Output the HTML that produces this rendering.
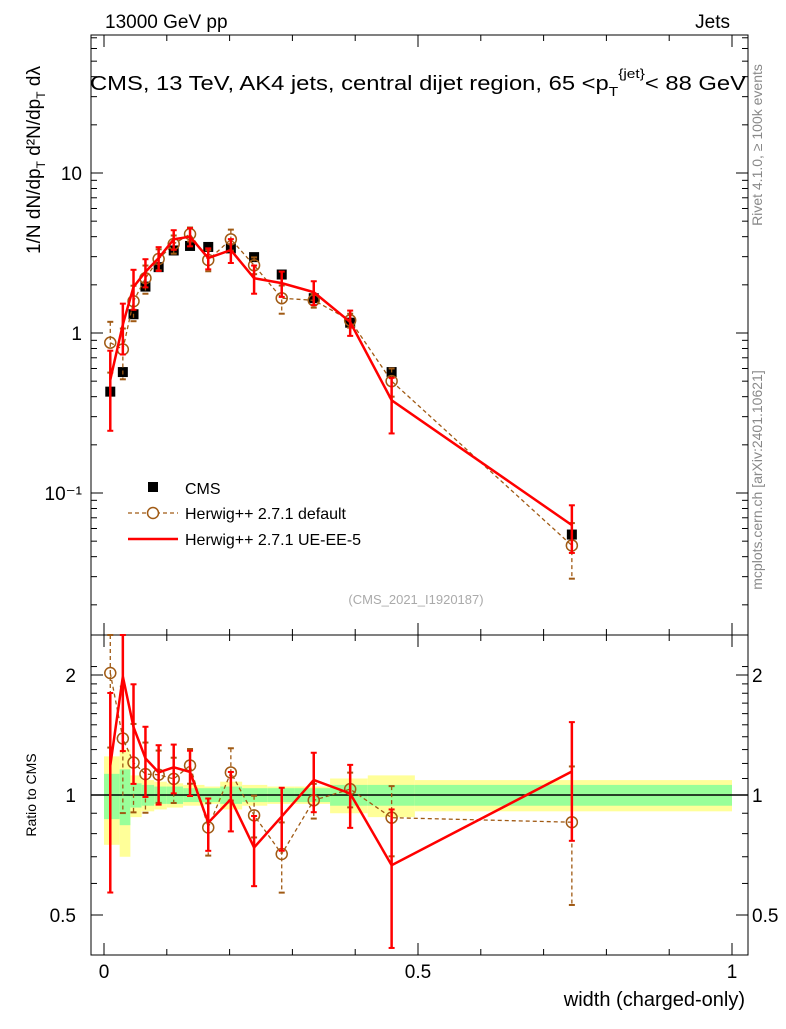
<!DOCTYPE html>
<html><head><meta charset="utf-8"><style>
body{margin:0;background:#fff}
svg{font-family:"Liberation Sans",sans-serif}
</style></head><body>
<svg id="c" width="786" height="1024" xmlns="http://www.w3.org/2000/svg">
<text x="105" y="28" font-size="19">13000 GeV pp</text>
<text x="730" y="28" font-size="19" text-anchor="end">Jets</text>
<text x="90" y="90" font-size="20" textLength="656" lengthAdjust="spacingAndGlyphs">CMS, 13 TeV, AK4 jets, central dijet region, 65 &lt;p<tspan font-size="13" dy="6">T</tspan><tspan font-size="13" dy="-18">{jet}</tspan><tspan dy="12">&lt; 88 GeV</tspan></text>
<text transform="translate(40,160) rotate(-90)" font-size="19" text-anchor="middle">1/N dN/dp<tspan font-size="12" dy="5">T</tspan><tspan dy="-5"> d²N/dp</tspan><tspan font-size="12" dy="5">T</tspan><tspan dy="-5"> dλ</tspan></text>
<text transform="translate(762,145) rotate(-90)" font-size="14" fill="#888" text-anchor="middle">Rivet 4.1.0, ≥ 100k events</text>
<text transform="translate(762,480) rotate(-90)" font-size="14" fill="#888" text-anchor="middle">mcplots.cern.ch [arXiv:2401.10621]</text>
<text x="416" y="604" font-size="13" fill="#aaa" text-anchor="middle">(CMS_2021_I1920187)</text>
<text transform="translate(36,795) rotate(-90)" font-size="14" text-anchor="middle">Ratio to CMS</text>
<text x="745" y="1006" font-size="20" text-anchor="end">width (charged-only)</text>
<g id="g"></g>
</svg>
<script>
const xs=[0.01,0.03,0.047,0.066,0.087,0.111,0.137,0.166,0.202,0.239,0.283,0.334,0.392,0.458,0.745];
const cms=[0.43,0.57,1.31,1.95,2.58,3.28,3.5,3.45,3.38,2.98,2.32,1.65,1.16,0.57,0.055];
const cmsErr=[0.08,0.06,0.05,0.04,0.04,0.04,0.04,0.04,0.04,0.04,0.04,0.04,0.05,0.06,0.06];
const hwDef=[0.87,0.79,1.58,2.2,2.9,3.6,4.15,2.86,3.85,2.65,1.65,1.6,1.2,0.5,0.047];
const hwDefErr=[0.35,0.35,0.25,0.2,0.15,0.13,0.1,0.15,0.15,0.12,0.2,0.1,0.1,0.2,0.38];
const hwUE=[0.51,1.13,1.94,2.41,2.94,3.85,4.0,2.94,3.3,2.2,2.05,1.8,1.17,0.38,0.063];
const hwUEErr=[0.52,0.35,0.28,0.2,0.17,0.14,0.13,0.15,0.17,0.2,0.18,0.17,0.18,0.38,0.33];
const bandEdges=[0,0.025,0.042,0.06,0.08,0.1,0.126,0.16,0.185,0.22,0.26,0.304,0.36,0.42,0.495,1.0];
const bandYellow=[0.25,0.3,0.12,0.09,0.08,0.07,0.06,0.05,0.08,0.06,0.05,0.05,0.1,0.12,0.09];
const bandGreen=[0.13,0.16,0.07,0.06,0.05,0.05,0.04,0.04,0.05,0.04,0.04,0.04,0.06,0.06,0.06];
const xTicks=[0,0.5,1];
const mainTicks=[[10,'10'],[1,'1'],[0.1,'10⁻¹']];
const ratioTicks=[[2,'2'],[1,'1'],[0.5,'0.5']];

const X=v=>104+v*628;
const Y=v=>333-Math.log10(v)*160;
const R=v=>795-Math.log2(v)*120;
const g=document.getElementById('g');
const NS='http://www.w3.org/2000/svg';
function mk(t,a,name,txt){const e=document.createElementNS(NS,t);for(const k in a)e.setAttribute(k,a[k]);


if(txt!==undefined)e.textContent=txt;g.appendChild(e);return e;}
for(let i=0;i<bandYellow.length;i++){
 const x0=X(bandEdges[i]),x1=X(bandEdges[i+1]);
 mk('rect',{x:x0,y:R(1+bandYellow[i]),width:x1-x0,height:R(1-bandYellow[i])-R(1+bandYellow[i]),fill:'#ffff99'},'band-total');
 mk('rect',{x:x0,y:R(1+bandGreen[i]),width:x1-x0,height:R(1-bandGreen[i])-R(1+bandGreen[i]),fill:'#99ff99'},'band-stat');
}
mk('line',{x1:91,x2:748,y1:795,y2:795,stroke:'#000','stroke-width':1.5},'ratio-unity-line');
mk('rect',{x:91,y:35,width:657,height:600,fill:'none',stroke:'#000'},'main-frame');
mk('rect',{x:91,y:635,width:657,height:320,fill:'none',stroke:'#000'},'ratio-frame');
for(const t of xTicks){for(const [a,b] of [[35,47],[623,635],[635,647],[943,955]])mk('line',{x1:X(t),x2:X(t),y1:a,y2:b,stroke:'#000'},'x-tick');
 mk('text',{x:X(t),y:978,'font-size':19,'text-anchor':'middle'},'x-tick-label',String(t));}
for(let t=0.1;t<1;t+=0.1){if(Math.abs(t-0.5)<1e-6)continue;for(const [a,b] of [[35,41],[629,635],[635,641],[949,955]])mk('line',{x1:X(t),x2:X(t),y1:a,y2:b,stroke:'#000'},'x-minor-tick');}
for(let d=-2;d<=1;d++)for(let m=1;m<10;m++){const v=m*Math.pow(10,d),y=Y(v);if(y<35||y>635)continue;const L=m==1?12:6;
 mk('line',{x1:91,x2:91+L,y1:y,y2:y,stroke:'#000'},'y-tick');mk('line',{x1:748-L,x2:748,y1:y,y2:y,stroke:'#000'},'y-tick');}
for(const [v,l] of mainTicks)mk('text',{x:82,y:Y(v)+7,'font-size':19,'text-anchor':'end'},'y-tick-label',l);
for(let v=0.5;v<=2.2;v+=0.1){const y=R(v);const maj=[0.5,1,2].some(q=>Math.abs(q-v)<1e-6);const L=maj?12:6;
 mk('line',{x1:91,x2:91+L,y1:y,y2:y,stroke:'#000'},'ratio-tick');mk('line',{x1:748-L,x2:748,y1:y,y2:y,stroke:'#000'},'ratio-tick');}
for(const [v,l] of ratioTicks){mk('text',{x:76,y:R(v)+7,'font-size':19,'text-anchor':'end'},'ratio-tick-label',l);mk('text',{x:752,y:R(v)+7,'font-size':19},'ratio-tick-label',l);}
const clipY=y=>Math.max(35,Math.min(635,y)), clipR=y=>Math.max(635,Math.min(955,y));
function series(vals,errs,fy,clip,col,dash,w,name,circle){
 mk('polyline',{points:vals.map((v,i)=>X(xs[i])+','+clip(fy(v))).join(' '),fill:'none',stroke:col,'stroke-width':w,'stroke-dasharray':dash||'none'},name+'-line');
 vals.forEach((v,i)=>{const x=X(xs[i]),y1=clip(fy(v*(1+errs[i]))),y2=clip(fy(v*(1-errs[i])));
  mk('line',{x1:x,x2:x,y1:y1,y2:y2,stroke:col,'stroke-width':w==1.3?1.3:2.5,'stroke-dasharray':dash||'none'},name+'-errorbar');
  mk('line',{x1:x-3,x2:x+3,y1:y1,y2:y1,stroke:col,'stroke-width':2},name+'-errcap');
  mk('line',{x1:x-3,x2:x+3,y1:y2,y2:y2,stroke:col,'stroke-width':2},name+'-errcap');
  if(circle)mk('circle',{cx:x,cy:clip(fy(v)),r:5.5,fill:'none',stroke:col,'stroke-width':1.5},name+'-marker');});
}
cms.forEach((v,i)=>{const x=X(xs[i]);mk('line',{x1:x,x2:x,y1:Y(v*(1+cmsErr[i])),y2:Y(v*(1-cmsErr[i])),stroke:'#000'},'cms-errorbar');
 mk('rect',{x:x-5,y:Y(v)-5,width:10,height:10,fill:'#000'},'cms-point');});
series(hwDef,hwDefErr,Y,clipY,'#a05a14','4,3',1.3,'herwig-default',true);
series(hwUE,hwUEErr,Y,clipY,'#ff0000',null,2.5,'herwig-ue',false);
series(hwDef.map((v,i)=>v/cms[i]),hwDefErr,R,clipR,'#a05a14','4,3',1.3,'ratio-herwig-default',true);
series(hwUE.map((v,i)=>v/cms[i]),hwUEErr,R,clipR,'#ff0000',null,2.5,'ratio-herwig-ue',false);
mk('rect',{x:148,y:482,width:10,height:10,fill:'#000'},'legend-cms-marker');
mk('text',{x:185,y:494,'font-size':16},'legend-cms','CMS');
mk('line',{x1:128,x2:178,y1:513,y2:513,stroke:'#a05a14','stroke-width':1.3,'stroke-dasharray':'4,3'},'legend-herwig-default-line');
mk('circle',{cx:153,cy:513,r:5.5,fill:'#fff',stroke:'#a05a14','stroke-width':1.5},'legend-herwig-default-marker');
mk('text',{x:185,y:519,'font-size':16},'legend-herwig-default','Herwig++ 2.7.1 default');
mk('line',{x1:128,x2:178,y1:539,y2:539,stroke:'#ff0000','stroke-width':2.5},'legend-herwig-ue-line');
mk('text',{x:185,y:545,'font-size':16},'legend-herwig-ue','Herwig++ 2.7.1 UE-EE-5');
</script>
</body></html>
